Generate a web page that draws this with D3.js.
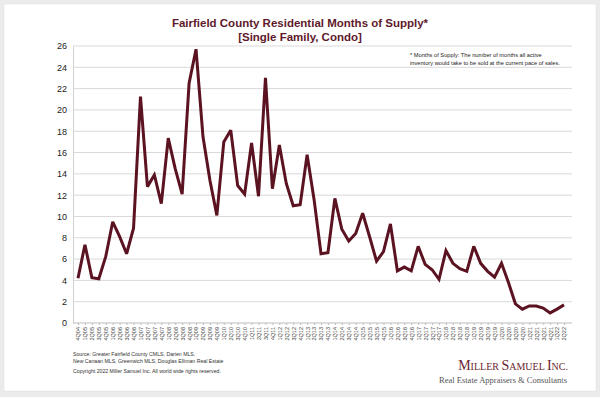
<!DOCTYPE html>
<html>
<head>
<meta charset="utf-8">
<script src="https://cdn.jsdelivr.net/npm/d3@7"></script>
<style>
  body { margin: 0; background: #ebebeb; }
  svg { display: block; }
</style>
</head>
<body>
<div class="vis"></div>
<script>
// quarters 4Q04 .. 2Q22
var years = ['04','05','06','07','08','09','10','11','12','13','14','15','16','17','18','19','20','21','22'];
var quarters = [];
years.forEach(function(yr) {
    [1,2,3,4].forEach(function(q) {
        if ((yr === '04' && q < 4) || (yr === '22' && q > 2)) return;
        quarters.push(q + 'Q' + yr);
    });
});

var supply = [4.2, 7.35, 4.25, 4.15, 6.25, 9.5, 8.1, 6.5, 8.9, 21.25,
              12.8, 13.9, 11.2, 17.35, 14.5, 12.1, 22.5, 25.7, 17.5, 13.4,
              10.1, 17.0, 18.1, 12.9, 12.1, 16.9, 11.9, 23.0, 12.6, 16.7,
              13.1, 11.0, 11.1, 15.8, 11.6, 6.5, 6.6, 11.7, 8.8, 7.7,
              8.4, 10.3, 8.1, 5.8, 6.7, 9.3, 4.9, 5.25, 4.9, 7.2,
              5.5, 5.0, 4.1, 6.8, 5.6, 5.1, 4.85, 7.2, 5.6, 4.85,
              4.3, 5.6, 3.8, 1.8, 1.3, 1.6, 1.6, 1.4, 0.95, 1.3,
              1.7];

var yTicks = d3.range(0, 27, 2);

var titleLines = ['Fairfield County Residential Months of Supply*', '[Single Family, Condo]'];
var noteLines  = ['* Months of Supply: The number of months all active',
                  'inventory would take to be sold at the current pace of sales.'];
var sourceLines = ['Source:  Greater Fairfield County CMLS, Darien MLS,',
                   'New Canaan MLS, Greenwich MLS, Douglas Elliman Real Estate',
                   'Copyright 2022 Miller Samuel Inc.  All world wide rights reserved.'];

function draw_months_supply(divname) {

    var W = 600, H = 397;
    var maroon = '#5b1322';
    var plotLeft = 73, plotRight = 572, plotTop = 46, plotBottom = 323;

    var svg = d3.select(divname).append('svg')
                .attr('width', W)
                .attr('height', H);

    // outer frame
    svg.append('rect').attr('x', 0).attr('y', 0).attr('width', W).attr('height', H).attr('fill', '#ebebeb');
    svg.append('rect').attr('x', 4).attr('y', 4).attr('width', 592).attr('height', 387)
       .attr('fill', '#ffffff').attr('stroke', '#e0e0e0').attr('stroke-width', 0.5);

    var x = d3.scalePoint()
              .domain(quarters)
              .range([plotLeft + 5, plotRight - 8]);

    var y = d3.scaleLinear()
              .domain([0, 26])
              .range([plotBottom, plotTop]);

    // gridlines
    svg.append('g')
       .selectAll('line')
       .data(yTicks.filter(function(d) { return d > 0; }))
       .enter()
       .append('line')
          .attr('x1', plotLeft).attr('x2', plotRight)
          .attr('y1', function(d) { return y(d); })
          .attr('y2', function(d) { return y(d); })
          .attr('stroke', '#d9d9d9')
          .attr('stroke-width', 1);

    // y axis
    var yAxis = svg.append('g')
                   .attr('transform', 'translate(' + plotLeft + ',0)')
                   .call(d3.axisLeft(y).tickValues(yTicks).tickSize(0).tickPadding(6));
    yAxis.select('.domain').attr('stroke', '#d0d0d0');
    yAxis.selectAll('text')
         .style('font-family', 'Liberation Sans, Arial, sans-serif')
         .style('font-size', '9px')
         .attr('fill', '#222');

    // x axis
    var xAxis = svg.append('g')
                   .attr('transform', 'translate(0,' + plotBottom + ')')
                   .call(d3.axisBottom(x).tickSize(2).tickPadding(2));
    xAxis.select('.domain').attr('stroke', '#bdbdbd').attr('d', 'M' + plotLeft + ',0H' + plotRight);
    xAxis.selectAll('line').attr('stroke', '#bdbdbd');
    xAxis.selectAll('text')
         .attr('transform', 'rotate(-90)')
         .attr('text-anchor', 'end')
         .attr('dy', '0.35em')
         .attr('y', 0)
         .attr('x', -4)
         .style('font-family', 'Liberation Sans, Arial, sans-serif')
         .style('font-size', '5.5px')
         .attr('fill', '#444');

    // line
    var line = d3.line()
                 .x(function(d, i) { return x(quarters[i]); })
                 .y(function(d) { return y(d); });

    svg.append('path')
       .datum(supply)
       .attr('d', line)
       .attr('fill', 'none')
       .attr('stroke', maroon)
       .attr('stroke-width', 3)
       .attr('stroke-linejoin', 'miter')
       .attr('stroke-miterlimit', 3);

    // title
    svg.append('g')
       .selectAll('text')
       .data(titleLines)
       .enter()
       .append('text')
          .text(function(d) { return d; })
          .attr('x', 300)
          .attr('y', function(d, i) { return 27 + i * 14; })
          .attr('text-anchor', 'middle')
          .style('font-family', 'Liberation Sans, Arial, sans-serif')
          .style('font-weight', 'bold')
          .style('font-size', '11.5px')
          .attr('fill', '#5e1a2b');

    // note
    svg.append('g')
       .selectAll('text')
       .data(noteLines)
       .enter()
       .append('text')
          .text(function(d) { return d; })
          .attr('x', 410)
          .attr('y', function(d, i) { return 57 + i * 8; })
          .style('font-family', 'Liberation Sans, Arial, sans-serif')
          .style('font-size', '5.7px')
          .attr('fill', '#222');

    // source
    svg.append('g')
       .selectAll('text')
       .data(sourceLines)
       .enter()
       .append('text')
          .text(function(d) { return d; })
          .attr('x', 73)
          .attr('y', function(d, i) { return 356 + i * 7.3 + (i === 2 ? 2 : 0); })
          .style('font-family', 'Liberation Sans, Arial, sans-serif')
          .style('font-size', '5.2px')
          .attr('fill', '#333');

    // logo
    var logo = svg.append('text')
                  .attr('x', 568)
                  .attr('y', 370)
                  .attr('text-anchor', 'end')
                  .style('font-family', 'Liberation Serif, Times New Roman, serif')
                  .attr('fill', '#6b1f2e');
    [['M', 14], ['ILLER ', 10], ['S', 14], ['AMUEL ', 10], ['I', 14], ['NC.', 10]].forEach(function(p) {
        logo.append('tspan').text(p[0]).style('font-size', p[1] + 'px');
    });

    svg.append('text')
       .text('Real Estate Appraisers & Consultants')
       .attr('x', 567)
       .attr('y', 383)
       .attr('text-anchor', 'end')
       .style('font-family', 'Liberation Serif, Times New Roman, serif')
       .style('font-size', '8.5px')
       .attr('fill', '#555');
}

draw_months_supply('div.vis');
</script>
</body>
</html>
